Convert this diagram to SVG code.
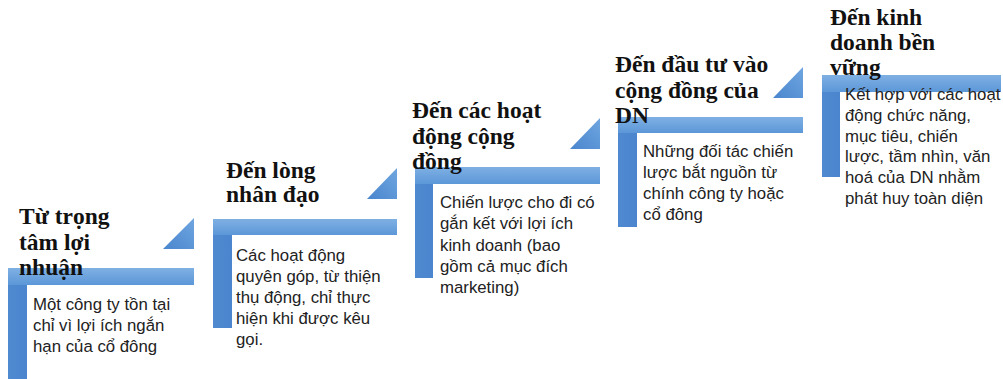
<svg xmlns="http://www.w3.org/2000/svg" width="1003" height="379" viewBox="0 0 1003 379">
<defs>
<linearGradient id="gh" x1="0" y1="0" x2="0" y2="1"><stop offset="0" stop-color="#7fb0e3"/><stop offset="1" stop-color="#5c97d8"/></linearGradient>
<linearGradient id="gv" x1="0" y1="0" x2="1" y2="0"><stop offset="0" stop-color="#4f8ad1"/><stop offset="1" stop-color="#4a85cd"/></linearGradient>
<linearGradient id="gt" x1="1" y1="0" x2="0" y2="1"><stop offset="0" stop-color="#6fa6e0"/><stop offset="1" stop-color="#4a86ce"/></linearGradient>
<style>
.v{fill:url(#gv)}
.h{fill:url(#gh)}
.t{fill:url(#gt)}
.ti{font-family:"Liberation Serif","Times New Roman",serif;font-weight:bold;font-size:23.5px;fill:#111}
.b{font-family:"Liberation Sans",Arial,sans-serif;font-size:16.8px;fill:#222}
</style>
</defs>
<g id="connectors">
<polygon class="t" points="163,249 194,249 194,218"/>
<polygon class="t" points="367,199 397,199 397,168"/>
<polygon class="t" points="570,149 600,149 600,118"/>
<polygon class="t" points="773,98 803,98 803,67"/>
</g>
<g id="step1">
<rect class="v" x="8" y="269" width="19" height="110"/>
<rect class="h" x="8" y="268" width="186" height="17"/>
<text class="ti"><tspan x="19" y="224">Từ trọng</tspan><tspan x="19" y="249.5">tâm lợi</tspan><tspan x="19" y="275">nhuận</tspan></text>
<text class="b"><tspan x="33" y="310">Một công ty tồn tại</tspan><tspan x="33" y="331">chỉ vì lợi ích ngắn</tspan><tspan x="33" y="352">hạn của cổ đông</tspan></text>
</g>
<g id="step2">
<rect class="v" x="213" y="219" width="19" height="109"/>
<rect class="h" x="213" y="219" width="184" height="16"/>
<text class="ti"><tspan x="226" y="178">Đến lòng</tspan><tspan x="226" y="202">nhân đạo</tspan></text>
<text class="b"><tspan x="236" y="261">Các hoạt động</tspan><tspan x="236" y="282">quyên góp, từ thiện</tspan><tspan x="236" y="303">thụ động, chỉ thực</tspan><tspan x="236" y="324">hiện khi được kêu</tspan><tspan x="236" y="345">gọi.</tspan></text>
</g>
<g id="step3">
<rect class="v" x="415" y="167" width="18" height="111"/>
<rect class="h" x="415" y="167" width="185" height="17"/>
<text class="ti"><tspan x="412" y="118">Đến các hoạt</tspan><tspan x="412" y="143.5">động cộng</tspan><tspan x="412" y="169">đồng</tspan></text>
<text class="b"><tspan x="440" y="208">Chiến lược cho đi có</tspan><tspan x="440" y="229.3">gắn kết với lợi ích</tspan><tspan x="440" y="250.6">kinh doanh (bao</tspan><tspan x="440" y="271.9">gồm cả mục đích</tspan><tspan x="440" y="293.2">marketing)</tspan></text>
</g>
<g id="step4">
<rect class="v" x="618" y="117" width="19" height="110"/>
<rect class="h" x="618" y="117" width="185" height="16"/>
<text class="ti"><tspan x="615" y="72">Đến đầu tư vào</tspan><tspan x="615" y="97.5">cộng đồng của</tspan><tspan x="615" y="123">DN</tspan></text>
<text class="b"><tspan x="643" y="157">Những đối tác chiến</tspan><tspan x="643" y="178">lược bắt nguồn từ</tspan><tspan x="643" y="199">chính công ty hoặc</tspan><tspan x="643" y="220">cổ đông</tspan></text>
</g>
<g id="step5">
<rect class="v" x="822" y="75" width="18" height="102"/>
<rect class="h" x="822" y="75" width="179" height="17"/>
<text class="ti"><tspan x="830" y="25">Đến kinh</tspan><tspan x="830" y="50">doanh bền</tspan><tspan x="830" y="75">vững</tspan></text>
<text class="b"><tspan x="845" y="100">Kết hợp với các hoạt</tspan><tspan x="845" y="120.8">động chức năng,</tspan><tspan x="845" y="141.6">mục tiêu, chiến</tspan><tspan x="845" y="162.4">lược, tầm nhìn, văn</tspan><tspan x="845" y="183.2">hoá của DN nhằm</tspan><tspan x="845" y="204">phát huy toàn diện</tspan></text>
</g>
</svg>
